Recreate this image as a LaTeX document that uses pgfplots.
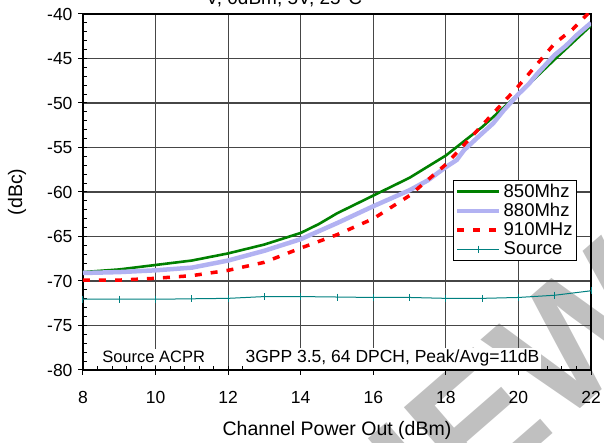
\documentclass[border=0pt]{standalone}
\usepackage{fontspec}
\setmainfont{Liberation Sans}
\usepackage{pgfplots}
\pgfplotsset{compat=1.18}
\definecolor{g850}{RGB}{0,128,0}
\definecolor{b880}{RGB}{178,178,242}
\definecolor{srcc}{RGB}{0,128,128}
\definecolor{gridc}{RGB}{70,70,70}
\definecolor{wm}{RGB}{192,192,192}

\begin{document}
\begin{tikzpicture}
% background stamp
\node[rotate=41, anchor=base west, text=wm, inner sep=0pt,
      font=\fontsize{170}{170}\selectfont\bfseries] at (4pt,-468pt) {PREVIEW};

\begin{axis}[
  scale only axis, width=508pt, height=356pt,
  xmin=8, xmax=22, ymin=-80, ymax=-40,
  xtick={8,10,...,22}, ytick={-80,-75,...,-40},
  tick pos=left, tick align=outside, major tick length=5pt,
  tick style={black, line width=1pt},
  extra x ticks={8.4,8.8,...,21.7}, extra x tick labels={},
  extra x tick style={grid=none, tick align=inside, major tick length=4pt},
  extra y ticks={-79,-78,...,-41}, extra y tick labels={},
  extra y tick style={grid=none, tick align=inside, major tick length=4pt},
  grid=major, major grid style={gridc, line width=1.2pt},
  axis line style={black, line width=1.4pt},
  /pgf/number format/assume math mode=true,
  ticklabel style={font=\fontsize{17.5}{20}\selectfont},
  xticklabel style={anchor=base, yshift=-29pt},
  yticklabel style={xshift=-2pt},
  xlabel={Channel Power Out (dBm)}, ylabel={(dBc)},
  label style={font=\fontsize{19.5}{22}\selectfont},
  xlabel style={at={(axis description cs:0.5,-0.185)}, anchor=base},
  ylabel style={at={(axis description cs:-0.13,0.5)}, anchor=center},
  clip mode=individual,
  legend cell align=left,
  legend style={at={(rel axis cs:0.972,0.534)}, anchor=north east,
    draw=black, fill=white, font=\fontsize{18.5}{18.5}\selectfont,
    inner sep=2pt, row sep=0.5pt},
  legend image code/.code={\draw[mark repeat=2,mark phase=2,#1]
      plot coordinates {(0pt,0pt) (21pt,0pt) (42pt,0pt)};},
]
\addplot[g850, line width=2.6pt, mark=none] coordinates {
 (8,-69.0) (9,-68.7) (10,-68.2) (11,-67.7) (12,-66.9) (13,-65.9)
 (14,-64.6) (14.5,-63.6) (15,-62.4) (16,-60.4) (17,-58.4) (18,-55.9)
 (19,-52.7) (20,-49.0) (21,-45.1) (22,-41.3)};
\addlegendentry{850Mhz}
\addplot[b880, line width=4.5pt, mark=none] coordinates {
 (8,-69.1) (9,-69.0) (10,-68.8) (11,-68.5) (12,-67.7) (13,-66.6)
 (14,-65.3) (15,-63.5) (16,-61.6) (17,-59.8) (17.5,-58.7) (18,-57.2)
 (18.3,-56.4) (18.5,-55.3) (19,-53.4) (19.3,-52.3) (19.6,-50.8)
 (20,-49.0) (20.3,-47.8) (20.5,-46.8) (21,-44.6) (21.3,-43.6)
 (21.6,-42.4) (22,-41.0)};
\addlegendentry{880Mhz}
\addplot[red, line width=3.5pt, dash pattern=on 7pt off 9pt, mark=none] coordinates {
 (8,-69.9) (9,-69.9) (10,-69.7) (11,-69.4) (12,-68.8) (13,-67.9)
 (14,-66.3) (15,-64.8) (16,-63.0) (17,-60.4) (18,-56.9) (19,-52.5)
 (20,-48.1) (21,-43.3) (21.5,-41.7) (22,-39.6)};
\addlegendentry{910MHz}
\addplot[srcc, line width=1pt, mark=|, mark size=3.5pt,
         mark options={line width=1pt}] coordinates {
 (8,-72.05) (9,-72.05) (10,-72.05) (11,-72.0) (12,-71.95) (13,-71.75)
 (14,-71.75) (15,-71.8) (16,-71.85) (17,-71.85) (18,-71.95) (19,-71.95)
 (20,-71.85) (21,-71.6) (22,-71.1)};
\addlegendentry{Source}

\node[anchor=base west, fill=white, inner sep=2pt,
      font=\fontsize{16.5}{18}\selectfont] at (axis cs:8.47,-79.21) {Source ACPR};
\node[anchor=base west, fill=white, inner sep=2pt,
      font=\fontsize{17.5}{18}\selectfont] at (axis cs:12.42,-79.21) {3GPP 3.5, 64 DPCH, Peak/Avg=11dB};
\end{axis}

\node[anchor=base, font=\fontsize{19}{22}\selectfont] at (201pt,365pt) {V, 0dBm, 5V, 25°C};

\pgfresetboundingbox
\useasboundingbox (-83pt,-73pt) rectangle (521pt,370pt);
\end{tikzpicture}
\end{document}
